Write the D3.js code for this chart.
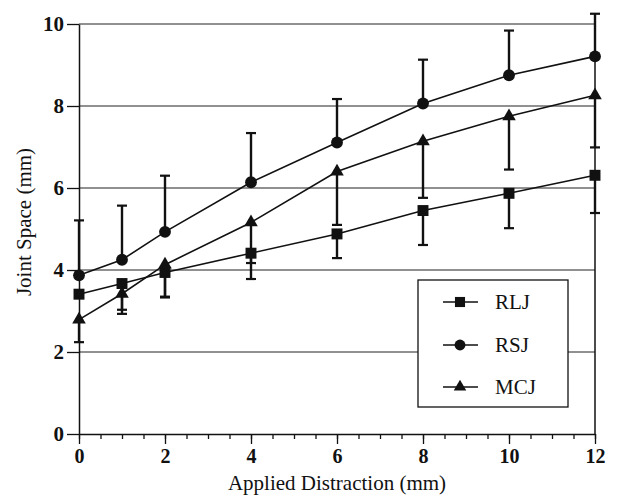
<!DOCTYPE html>
<html>
<head>
<meta charset="utf-8">
<script src="https://cdn.jsdelivr.net/npm/d3@7"></script>
<style>
  body { margin: 0; background: #fff; }
  svg text { font-family: "Liberation Serif", "Times New Roman", serif !important; fill: #111; }
</style>
</head>
<body>
<svg id="chart" width="617" height="500"></svg>
<script>
// distraction steps (mm)
const distraction = [0, 1, 2, 4, 6, 8, 10, 12];

// joint space means (mm)
const rlj = [3.41, 3.67, 3.94, 4.41, 4.88, 5.45, 5.87, 6.31];
const rsj = [3.87, 4.25, 4.93, 6.14, 7.11, 8.06, 8.75, 9.21];
const mcj = [2.79, 3.42, 4.13, 5.16, 6.40, 7.14, 7.75, 8.26];

// one-sided error bar ends (null = not drawn)
const rljLow  = [null, 2.93, 3.33, 3.78, 4.29, 4.61, 5.02, 5.39];
const rsjHigh = [5.21, 5.57, 6.30, 7.34, 8.17, 9.13, 9.84, 10.25];
const mcjLow  = [2.24, 3.03, 3.35, 4.17, 5.10, 5.76, 6.45, 6.99];

const xTicks = [0, 2, 4, 6, 8, 10, 12];
const yTicks = [0, 2, 4, 6, 8, 10];
const legendNames = ["RLJ", "RSJ", "MCJ"];

const svg = d3.select("#chart");

const x = d3.scaleLinear().domain([0, 12]).range([79, 595]);
const y = d3.scaleLinear().domain([0, 10]).range([434, 24]);

// horizontal grid lines
svg.append("g")
  .selectAll("line")
  .data(yTicks.filter(d => d > 0))
  .join("line")
  .attr("x1", x(0)).attr("x2", x(12))
  .attr("y1", d => y(d)).attr("y2", d => y(d))
  .attr("stroke", "#222")
  .attr("stroke-width", 1);

// right border of the plot
svg.append("line")
  .attr("x1", x(12)).attr("x2", x(12))
  .attr("y1", y(10)).attr("y2", y(0))
  .attr("stroke", "#111").attr("stroke-width", 1.5);

// y axis
const yAxis = svg.append("g")
  .attr("transform", `translate(${x(0)},0)`)
  .call(d3.axisLeft(y).tickValues(yTicks).tickSize(12).tickPadding(3).tickSizeOuter(0));
yAxis.select(".domain").attr("stroke", "#111").attr("stroke-width", 1.5);
yAxis.selectAll(".tick line").attr("stroke", "#111").attr("stroke-width", 1.3);
yAxis.selectAll("text").attr("font-size", 21).attr("font-weight", "bold");

// x axis, minor ticks every 0.5
const xMinor = svg.append("g")
  .attr("transform", `translate(0,${y(0)})`)
  .call(d3.axisBottom(x).ticks(24).tickSize(5).tickFormat("").tickSizeOuter(0));
xMinor.selectAll(".tick line").attr("stroke", "#111").attr("stroke-width", 1.3);
xMinor.select(".domain").attr("stroke", "#111").attr("stroke-width", 1.5);

const xAxis = svg.append("g")
  .attr("transform", `translate(0,${y(0)})`)
  .call(d3.axisBottom(x).tickValues(xTicks).tickSize(10).tickPadding(5).tickSizeOuter(0));
xAxis.select(".domain").remove();
xAxis.selectAll(".tick line").attr("stroke", "#111").attr("stroke-width", 1.3);
xAxis.selectAll("text").attr("font-size", 20).attr("font-weight", "bold");

// axis titles
svg.append("text")
  .attr("x", x(6)).attr("y", 490)
  .attr("text-anchor", "middle")
  .attr("font-size", 21)
  .text("Applied Distraction (mm)");

svg.append("text")
  .attr("transform", `translate(31,222) rotate(-90)`)
  .attr("text-anchor", "middle")
  .attr("font-size", 21)
  .text("Joint Space (mm)");

// error bars
function errorBars(means, ends) {
  const g = svg.append("g");
  const rows = distraction.map((d, i) => ({ d, m: means[i], e: ends[i] })).filter(r => r.e !== null);
  g.selectAll("line.bar").data(rows).join("line")
    .attr("x1", r => x(r.d)).attr("x2", r => x(r.d))
    .attr("y1", r => y(r.m)).attr("y2", r => y(r.e))
    .attr("stroke", "#111").attr("stroke-width", 2.4);
  g.selectAll("line.cap").data(rows).join("line")
    .attr("x1", r => x(r.d) - 5).attr("x2", r => x(r.d) + 5)
    .attr("y1", r => y(r.e)).attr("y2", r => y(r.e))
    .attr("stroke", "#111").attr("stroke-width", 2.2);
}
errorBars(rlj, rljLow);
errorBars(rsj, rsjHigh);
errorBars(mcj, mcjLow);

// series lines
const line = d3.line().x((v, i) => x(distraction[i])).y(v => y(v));
[rlj, rsj, mcj].forEach(s => {
  svg.append("path")
    .attr("d", line(s))
    .attr("fill", "none")
    .attr("stroke", "#111")
    .attr("stroke-width", 1.6);
});

// markers
const symbols = [d3.symbolSquare, d3.symbolCircle, d3.symbolTriangle];
const sizes = [120, 110, 80];
[rlj, rsj, mcj].forEach((s, k) => {
  svg.append("g").selectAll("path")
    .data(s)
    .join("path")
    .attr("transform", (v, i) => `translate(${x(distraction[i])},${y(v)})`)
    .attr("d", d3.symbol().type(symbols[k]).size(sizes[k]))
    .attr("fill", "#111");
});

// legend
const legend = svg.append("g");
legend.append("rect")
  .attr("x", 418).attr("y", 280).attr("width", 150).attr("height", 127)
  .attr("fill", "#fff").attr("stroke", "#111").attr("stroke-width", 1.3);
const rowY = [302, 345, 387];
legendNames.forEach((name, k) => {
  legend.append("line")
    .attr("x1", 443).attr("x2", 478).attr("y1", rowY[k]).attr("y2", rowY[k])
    .attr("stroke", "#111").attr("stroke-width", 1.6);
  legend.append("path")
    .attr("transform", `translate(460,${rowY[k]})`)
    .attr("d", d3.symbol().type(symbols[k]).size(sizes[k] * 0.85))
    .attr("fill", "#111");
  legend.append("text")
    .attr("x", 495).attr("y", rowY[k] + 7)
    .attr("font-size", 21)
    .text(name);
});
</script>
</body>
</html>
